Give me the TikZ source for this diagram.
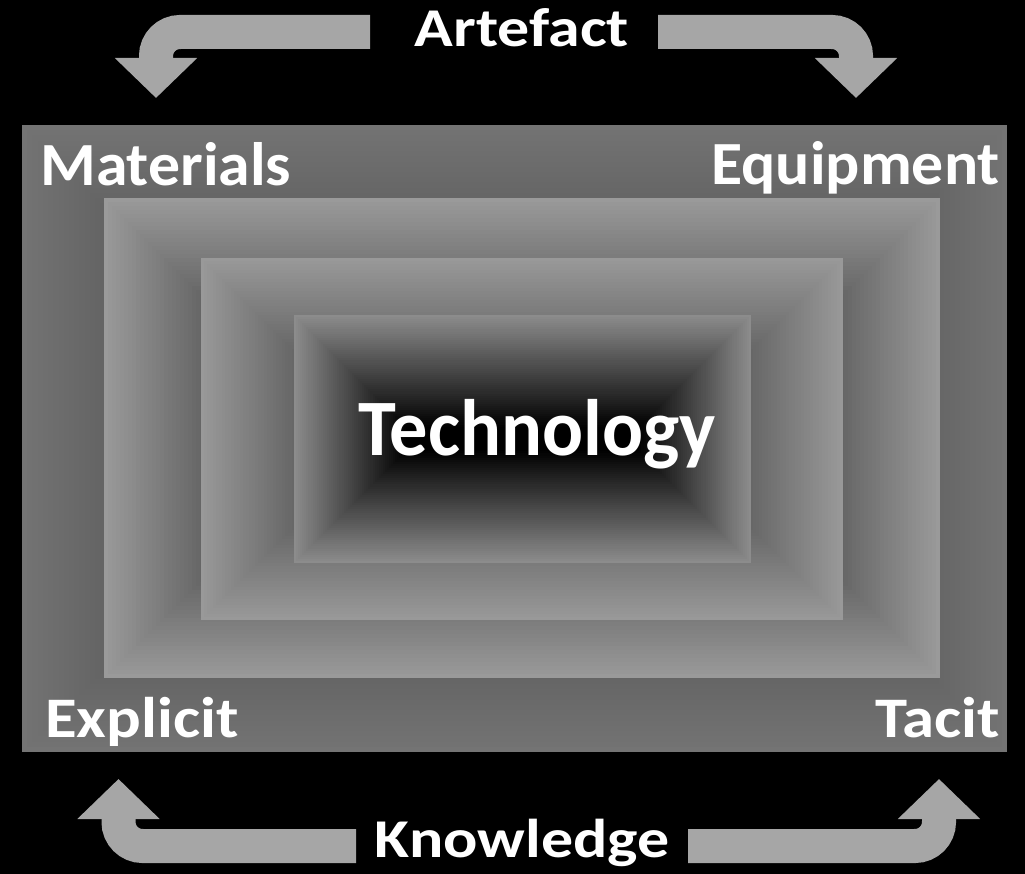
\documentclass[tikz,border=0pt]{standalone}
\usepackage{fontspec}
\setmainfont{Carlito}
\usetikzlibrary{arrows.meta}

% rectangle filled with bands that darken from its edge inwards
% #1 x1, #2 y1, #3 x2, #4 y2, #5 edge grey (0-255), #6 stop factor
\newcommand{\gradrect}[6]{%
  \pgfmathsetmacro{\ghalf}{(#4-#2)/2}
  \foreach \k in {0,...,59}{
    \pgfmathsetmacro{\gin}{\k/60*\ghalf}
    \pgfmathtruncatemacro{\gval}{max(0,#5*(1-\gin/(#6*\ghalf)))}
    \definecolor{bandc}{RGB}{\gval,\gval,\gval}
    \fill[bandc] (#1+\gin,#2+\gin) rectangle (#3-\gin,#4-\gin);
  }}

\definecolor{arrowgray}{RGB}{166,166,166}

\tikzset{
  bigarrow/.style={draw=arrowgray, line width=25.5pt, rounded corners=18pt,
    -{Triangle[width=60pt,length=30pt]}},
  label/.style={text=white, inner sep=0pt, transform shape},
  cornerlabel/.style={label, xscale=1.04, font=\bfseries\fontsize{46}{55}\selectfont},
  lowlabel/.style={label, xscale=1.13, font=\bfseries\fontsize{43}{52}\selectfont},
  flowlabel/.style={label, xscale=1.17, font=\bfseries\fontsize{41}{50}\selectfont}
}

\begin{document}
\begin{tikzpicture}[x=0.75pt, y=-0.75pt]
    \fill[black] (0,0) rectangle (1025,874);
    \useasboundingbox (0,0) rectangle (1025,874);
    % nested frames
    \gradrect{22}{125}{1007}{752}{116}{1.9}
    \gradrect{104}{198}{940}{678}{154}{1.2}
    \gradrect{201}{258}{843}{620}{153}{1.55}
    \gradrect{294}{315}{751}{563}{140}{0.9}
    % labels
    \node (tech) [label, xscale=0.955, anchor=base, font=\bfseries\fontsize{60}{70}\selectfont] at (537,455) {Technology};
    \node (mat) [cornerlabel, anchor=base west] at (40,185) {Materials};
    \node (equ) [cornerlabel, anchor=base east] at (1000,184) {Equipment};
    \node (expl) [lowlabel, anchor=base west] at (45,737) {Explicit};
    \node (tac) [lowlabel, anchor=base east] at (1000,737) {Tacit};
    \node (art) [flowlabel, anchor=base] at (522,47) {Artefact};
    \node (know) [flowlabel, anchor=base] at (522,857) {Knowledge};
    % arrow ends
    \coordinate (artL) at (370,32);
    \coordinate (artR) at (658,32);
    \coordinate (matA) at (156,98);
    \coordinate (equA) at (856,98);
    \coordinate (knowL) at (356,846);
    \coordinate (knowR) at (688,846);
    \coordinate (explA) at (118.5,779);
    \coordinate (tacA) at (939,779);
    \draw [bigarrow] (artL) -| (matA);
    \draw [bigarrow] (artR) -| (equA);
    \draw [bigarrow] (knowL) -| (explA);
    \draw [bigarrow] (knowR) -| (tacA);
\end{tikzpicture}
\end{document}
